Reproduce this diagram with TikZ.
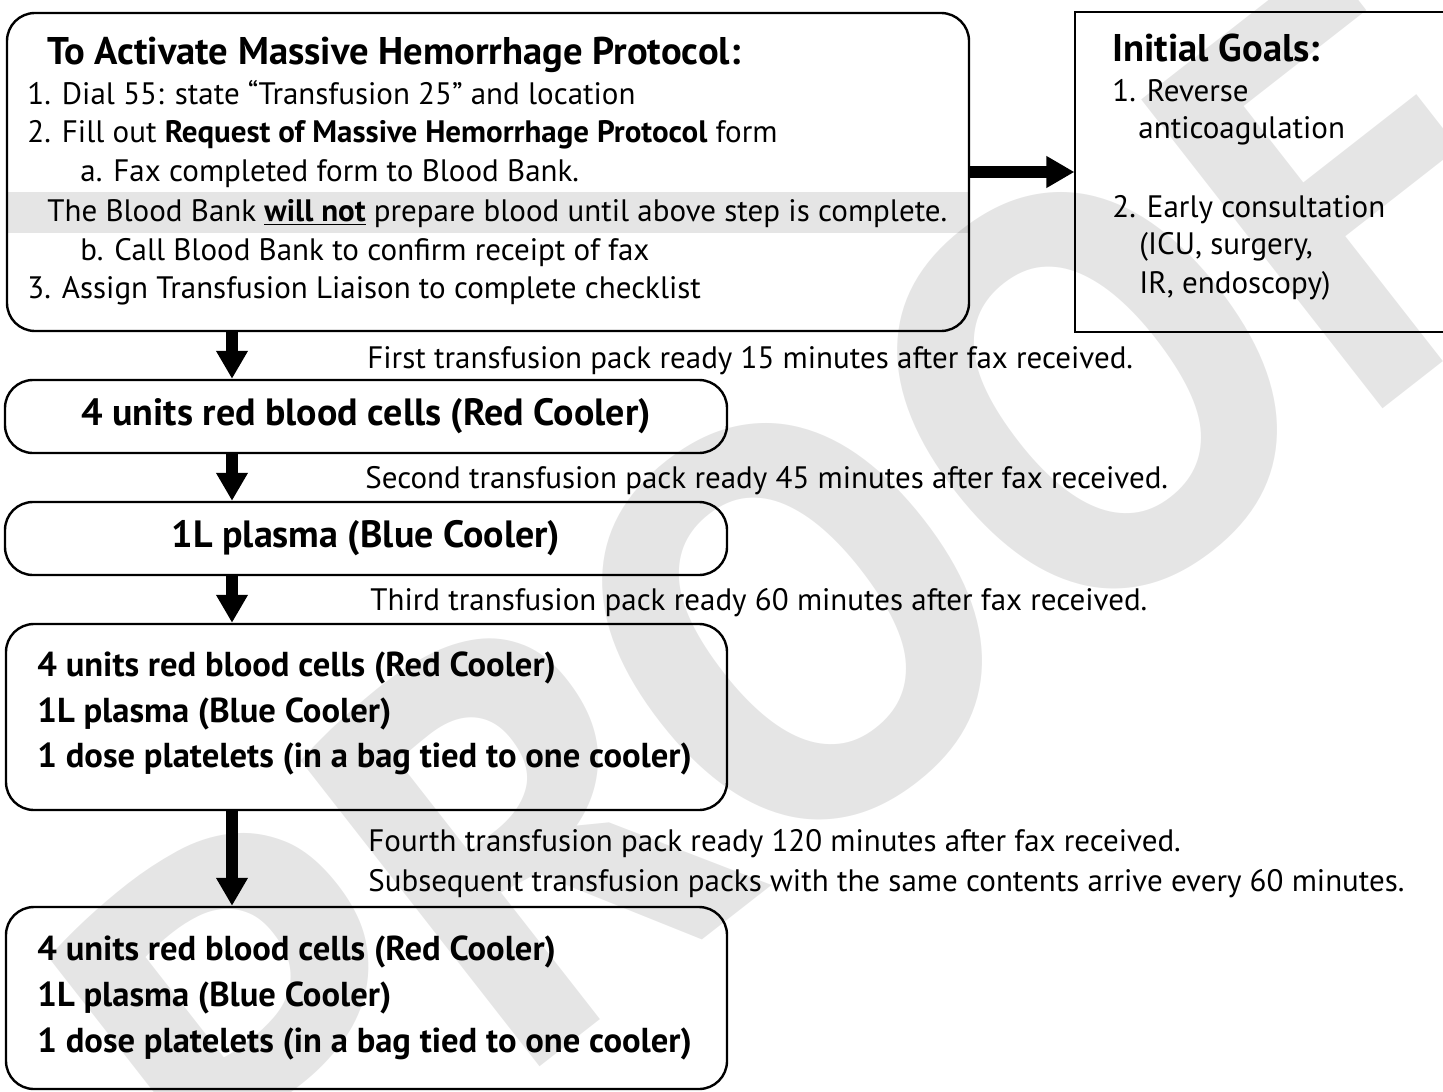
\documentclass[tikz,border=0pt]{standalone}
\usepackage{fontspec}
\setmainfont{PT Sans}
\usetikzlibrary{arrows.meta}

% font sizes
\newcommand{\bodysize}{\fontsize{15.5}{18}\selectfont}
\newcommand{\headsize}{\fontsize{19.3}{22}\selectfont}
\newcommand{\packsize}{\fontsize{19}{22}\selectfont}
\newcommand{\listsize}{\fontsize{17.3}{20}\selectfont}

\begin{document}
\begin{tikzpicture}[x=0.5pt, y=-0.5pt]
        % ================= styles =================
        \tikzset{
            % rounded flow boxes
            flowbox/.style={draw=black, line width=1.2pt, rounded corners=14pt, inner sep=0pt},
            % goals box: plain thin frame
            goalbox/.style={draw=black, line width=0.6pt, inner sep=0pt},
            % one line of text, placed by its baseline
            txt/.style={anchor=base west, inner sep=0pt, font=\bodysize},
            % fat black arrows
            fatarrow/.style={line width=6pt, -{Triangle[width=15pt, length=14pt]}}
        }

        \useasboundingbox (0,0) rectangle (1443,1091);
        \clip (0,0) rectangle (1443,1091);

        % ================= background: band and watermark =================
        \fill[black!10] (7,192) rectangle (969,233);
        \node[rotate=38, text=black, text opacity=0.1, inner sep=0pt,
              font=\fontsize{280}{280}\selectfont\bfseries] (proof) at (800,615) {PROOF};

        % ================= 1. activation box =================
        \node[flowbox, minimum width=481pt, minimum height=159pt] (activate) at (488,172) {};
        \node[txt, font=\headsize\bfseries] (t0) at (47,65) {To Activate Massive Hemorrhage Protocol:};
        \node[txt] (t1) at (27,105) {1. Dial 55: state “Transfusion 25” and location};
        \node[txt] (t2) at (27,143) {2. Fill out \textbf{Request of Massive Hemorrhage Protocol} form};
        \node[txt] (t3) at (80,182) {a. Fax completed form to Blood Bank.};
        \node[txt] (t4) at (47,221) {The Blood Bank \underline{\textbf{will not}} prepare blood until above step is complete.};
        \node[txt] (t5) at (80,260) {b. Call Blood Bank to confirm receipt of fax};
        \node[txt] (t6) at (27,298) {3. Assign Transfusion Liaison to complete checklist};

        % ================= 2. initial goals =================
        \node[goalbox, minimum width=205pt, minimum height=160pt] (goals) at (1280,172) {};
        \node[txt, font=\headsize\bfseries] (g0) at (1112,62) {Initial Goals:};
        \node[txt] (g1) at (1112,102) {1. Reverse};
        \node[txt] (g2) at (1138,139) {anticoagulation};
        \node[txt] (g3) at (1112,217) {2. Early consultation};
        \node[txt] (g4) at (1139,254) {(ICU, surgery,};
        \node[txt] (g5) at (1139,293) {IR, endoscopy)};

        \draw[fatarrow] (activate.east) -- (goals.west);

        % ================= 3. transfusion packs =================
        \node[flowbox, minimum width=361pt, minimum height=36.5pt, font=\packsize\bfseries]
            (pack1) at (366,416.5) {4 units red blood cells (Red Cooler)};
        \node[flowbox, minimum width=361pt, minimum height=36.5pt, font=\packsize\bfseries]
            (pack2) at (366,538.5) {1L plasma (Blue Cooler)};
        \node[flowbox, minimum width=360.5pt, minimum height=93pt] (pack3) at (366.5,717) {};
        \node[flowbox, minimum width=360.5pt, minimum height=91pt] (pack4) at (366.5,998) {};

        \node[txt, font=\listsize\bfseries] (p31) at (37,676) {4 units red blood cells (Red Cooler)};
        \node[txt, font=\listsize\bfseries] (p32) at (37,722) {1L plasma (Blue Cooler)};
        \node[txt, font=\listsize\bfseries] (p33) at (37,767) {1 dose platelets (in a bag tied to one cooler)};
        \node[txt, font=\listsize\bfseries] (p41) at (37,960) {4 units red blood cells (Red Cooler)};
        \node[txt, font=\listsize\bfseries] (p42) at (37,1006) {1L plasma (Blue Cooler)};
        \node[txt, font=\listsize\bfseries] (p43) at (37,1052) {1 dose platelets (in a bag tied to one cooler)};

        % ================= 4. timing notes =================
        \node[txt] (n1) at (367,368) {First transfusion pack ready 15 minutes after fax received.};
        \node[txt] (n2) at (365,488) {Second transfusion pack ready 45 minutes after fax received.};
        \node[txt] (n3) at (370,610) {Third transfusion pack ready 60 minutes after fax received.};
        \node[txt] (n4) at (368,851) {Fourth transfusion pack ready 120 minutes after fax received.};
        \node[txt] (n5) at (368,891) {Subsequent transfusion packs with the same contents arrive every 60 minutes.};

        % ================= 5. down arrows =================
        \coordinate (spine) at (232,0);
        \draw[fatarrow] (spine |- activate.south) -- (spine |- pack1.north);
        \draw[fatarrow] (spine |- pack1.south) -- (spine |- pack2.north);
        \draw[fatarrow] (spine |- pack2.south) -- (spine |- pack3.north);
        \draw[fatarrow] (spine |- pack3.south) -- (spine |- pack4.north);

    \end{tikzpicture}
\end{document}
